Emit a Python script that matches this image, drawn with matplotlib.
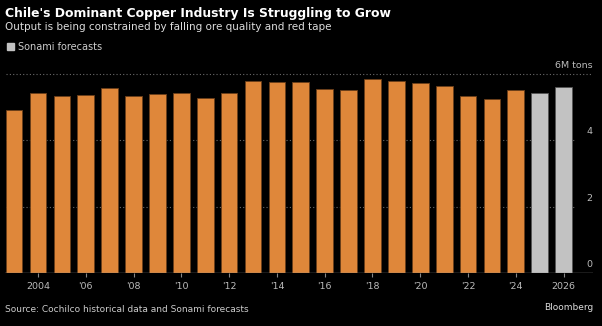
import numpy as np
import matplotlib.pyplot as plt
from matplotlib.patches import Rectangle

# dane: produkcja miedzi w Chile (mln ton)
lata = list(range(2003, 2027))
produkcja = [4.92, 5.42, 5.33, 5.37, 5.57, 5.34, 5.40, 5.43, 5.27, 5.44,
             5.78, 5.77, 5.77, 5.55, 5.52, 5.84, 5.80, 5.74, 5.63, 5.34,
             5.26, 5.51, 5.42, 5.61]
prognoza = [False] * 22 + [True, True]
lata_ticki = [2004, 2006, 2008, 2010, 2012, 2014, 2016, 2018, 2020, 2022, 2024, 2026]
etykiety_ticki = ['2004', "'06", "'08", "'10", "'12", "'14", "'16", "'18", "'20", "'22", "'24", '2026']
y_ticki = [0, 2, 4, 6]
y_etykiety = ['0', '2', '4', '6M tons']

POMARANCZ = '#df873a'
SZARY = '#c2c2c2'
TLO = 'black'

fig = plt.figure(figsize=(6.02, 3.26), dpi=100, facecolor=TLO)
ax = fig.add_axes([5 / 602, 0.1617, 588 / 602, 0.652], facecolor=TLO)

kolory = [SZARY if p else POMARANCZ for p in prognoza]
krawedzie = ['#555555' if p else '#6b3f1a' for p in prognoza]
ax.bar(lata, produkcja, width=0.7, color=kolory, edgecolor=krawedzie, linewidth=0.6, zorder=2)

x_lewo, x_prawo = 2002.62, 2027.23
ax.set_xlim(x_lewo, x_prawo)
ax.set_ylim(0, 6.4)

# linie siatki
for y in y_ticki[1:]:
    koniec = x_prawo if y == 6 else 2026.45
    ax.plot([x_lewo + 0.05, koniec], [y, y], color='#6a6a6a', lw=0.8,
            linestyle=(0, (1, 2)), zorder=1)
ax.axhline(0, color='#888888', lw=1.0, zorder=3)

for y, t in zip(y_ticki, y_etykiety):
    ax.text(x_prawo - 0.02, y + 0.12, t, ha='right', va='bottom', color='#bbbbbb', fontsize=6.8)

ax.set_xticks(lata_ticki)
ax.set_xticklabels(etykiety_ticki)
ax.tick_params(axis='x', colors='#888888', length=3, width=0.8, labelcolor='#bbbbbb',
               labelsize=6.8, pad=3)
ax.set_yticks([])
for s in ax.spines.values():
    s.set_visible(False)

fig.text(5 / 602, 1 - 13 / 326, "Chile's Dominant Copper Industry Is Struggling to Grow",
         color='white', fontsize=8.9, fontweight='bold', va='center', ha='left')
fig.text(5 / 602, 1 - 27 / 326, "Output is being constrained by falling ore quality and red tape",
         color='#dddddd', fontsize=7.5, va='center', ha='left')
fig.patches.append(Rectangle((7 / 602, 1 - 50 / 326), 7 / 602, 7 / 326,
                             transform=fig.transFigure, color=SZARY))
fig.text(18 / 602, 1 - 46.5 / 326, "Sonami forecasts", color='#cccccc', fontsize=7,
         va='center', ha='left')
fig.text(5 / 602, 1 - 309 / 326, "Source: Cochilco historical data and Sonami forecasts",
         color='#cccccc', fontsize=6.5, va='center', ha='left')
fig.text(593 / 602, 1 - 308 / 326, "Bloomberg", color='#dddddd', fontsize=6.5,
         va='center', ha='right')

fig.savefig('out.png', dpi=100, facecolor=TLO)
